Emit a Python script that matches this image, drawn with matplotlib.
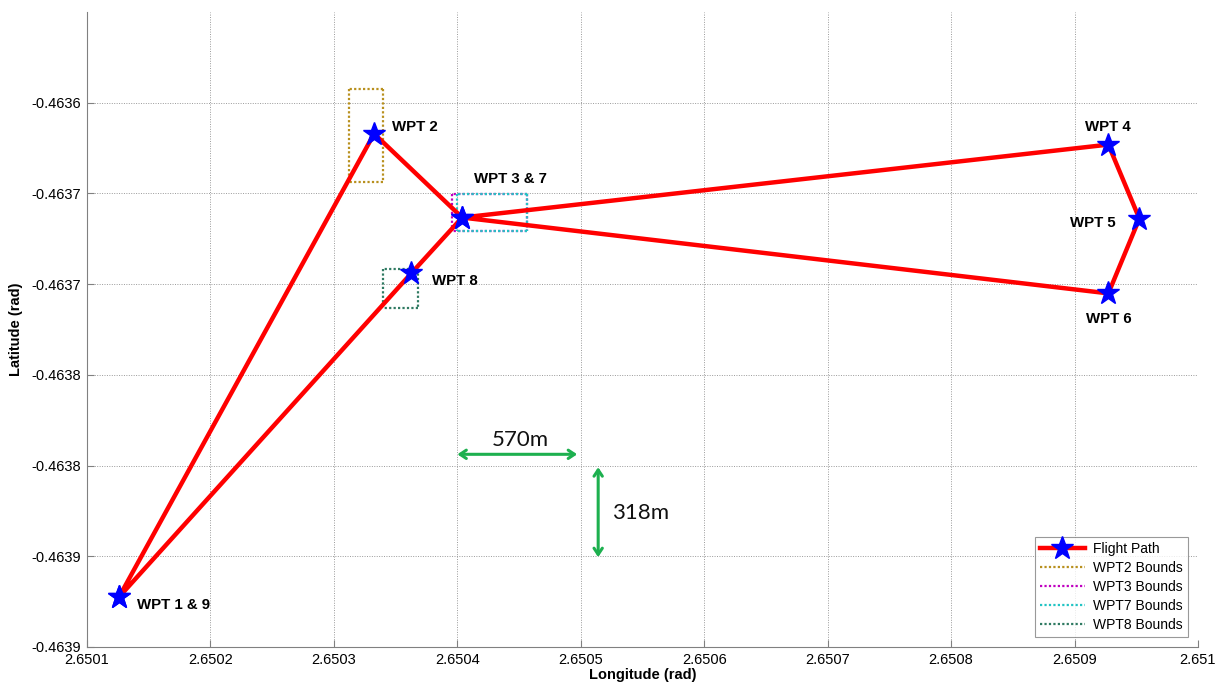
import matplotlib
matplotlib.use("Agg")
import matplotlib.pyplot as plt

# waypoints in flight order: 1 2 3 4 5 6 7(=3) 8 9(=1)
PATH_LON = [2.6501259, 2.6503326, 2.6504039, 2.6509274, 2.6509525, 2.6509274,
            2.6504039, 2.6503626, 2.6501259]
PATH_LAT = [-0.4638725, -0.4636171, -0.4636633, -0.4636231, -0.4636639, -0.4637051,
            -0.4636633, -0.4636941, -0.4638725]

# bounds boxes: (lon_min, lon_max, lat_min, lat_max)
WPT2_BOUNDS = (2.6503123, 2.6503399, -0.4636435, -0.4635923)
WPT3_BOUNDS = (2.6503960, 2.6504566, -0.4636705, -0.4636501)
WPT7_BOUNDS = (2.6503995, 2.6504566, -0.4636705, -0.4636501)
WPT8_BOUNDS = (2.6503399, 2.6503682, -0.4637129, -0.4636919)
BOUNDS_LABELS = ["WPT2 Bounds", "WPT3 Bounds", "WPT7 Bounds", "WPT8 Bounds"]
BOUNDS_COLORS = ["#b8901e", "#c000c0", "#22c4c4", "#2f7a62"]

# waypoint labels: text, lon, lat, horizontal alignment
WPT_LABELS = ["WPT 1 & 9", "WPT 2", "WPT 3 & 7", "WPT 4", "WPT 5", "WPT 6", "WPT 8"]
WPT_LABEL_LON = [2.6501405, 2.6503470, 2.6504430, 2.6509274, 2.6509331, 2.6509274, 2.6503796]
WPT_LABEL_LAT = [-0.4638770, -0.4636135, -0.4636420, -0.4636135, -0.4636665, -0.4637190, -0.4636985]
WPT_LABEL_HA = ["left", "left", "center", "center", "right", "center", "left"]

# distance annotations
DIST_H = (2.6504000, 2.6504971, -0.4637938)   # lon start, lon end, lat
DIST_V = (2.6505141, -0.4638009, -0.4638505)  # lon, lat start, lat end
DIST_H_TEXT = ("570m", 2.6504509, -0.4637861)
DIST_V_TEXT = ("318m", 2.6505481, -0.4638262)

X_TICKS = [2.6501 + 0.0001 * i for i in range(10)]
X_TICK_LABELS = ["2.6501", "2.6502", "2.6503", "2.6504", "2.6505", "2.6506",
                 "2.6507", "2.6508", "2.6509", "2.651"]
Y_TICKS = [-0.46390, -0.46385, -0.46380, -0.46375, -0.46370, -0.46365, -0.46360]
Y_TICK_LABELS = ["-0.4639", "-0.4639", "-0.4638", "-0.4638", "-0.4637", "-0.4637", "-0.4636"]
X_LIM = (2.6501, 2.6510)
Y_LIM = (-0.46390, -0.463550)

nan = float("nan")


def draw_box(ax, bounds, color, label):
    # each edge as its own piece, starting from the top right corner,
    # so overlapping boxes keep the same dot phase
    x0, x1, y0, y1 = bounds
    xs = [x1, x0, nan, x1, x0, nan, x1, x1, nan, x0, x0]
    ys = [y1, y1, nan, y0, y0, nan, y1, y0, nan, y1, y0]
    ax.plot(xs, ys, color=color, linestyle=(0, (1, 1)), linewidth=1.6, label=label)


def main():
    plt.rcParams['font.family'] = ['Liberation Sans', 'DejaVu Sans']
    fig = plt.figure(figsize=(12.15, 6.88), dpi=100)
    ax = fig.add_axes([0.0716, 0.0596, 0.9144, 0.9230])

    ax.plot(PATH_LON, PATH_LAT, color="#ff0000", linewidth=3.2, marker="*",
            markersize=17, markerfacecolor="#0000ff", markeredgecolor="#0000ff",
            label="Flight Path", zorder=3)

    draw_box(ax, WPT2_BOUNDS, BOUNDS_COLORS[0], BOUNDS_LABELS[0])
    draw_box(ax, WPT3_BOUNDS, BOUNDS_COLORS[1], BOUNDS_LABELS[1])
    draw_box(ax, WPT7_BOUNDS, BOUNDS_COLORS[2], BOUNDS_LABELS[2])
    draw_box(ax, WPT8_BOUNDS, BOUNDS_COLORS[3], BOUNDS_LABELS[3])

    for text, lon, lat, ha in zip(WPT_LABELS, WPT_LABEL_LON, WPT_LABEL_LAT, WPT_LABEL_HA):
        ax.text(lon, lat, text, ha=ha, va="center", fontsize=10.8, fontweight="bold")

    green = "#1db04f"
    arrow = dict(arrowstyle="<->,head_length=0.45,head_width=0.3",
                 color=green, lw=2.2, shrinkA=0, shrinkB=0)
    ax.annotate("", xy=(DIST_H[0], DIST_H[2]), xytext=(DIST_H[1], DIST_H[2]), arrowprops=arrow)
    ax.annotate("", xy=(DIST_V[0], DIST_V[1]), xytext=(DIST_V[0], DIST_V[2]), arrowprops=arrow)
    ax.text(DIST_H_TEXT[1], DIST_H_TEXT[2], DIST_H_TEXT[0], ha="center", va="center",
            fontsize=16, family=["Lato", "DejaVu Sans"], color="#111111")
    ax.text(DIST_V_TEXT[1], DIST_V_TEXT[2], DIST_V_TEXT[0], ha="center", va="center",
            fontsize=16, family=["Lato", "DejaVu Sans"], color="#111111")

    ax.set_xlim(X_LIM)
    ax.set_ylim(Y_LIM)
    ax.set_xticks(X_TICKS)
    ax.set_xticklabels(X_TICK_LABELS)
    ax.set_yticks(Y_TICKS)
    ax.set_yticklabels(Y_TICK_LABELS)
    ax.tick_params(direction="in", length=5, color="#808080", labelsize=10.5)
    ax.tick_params(axis="x", pad=4)
    ax.tick_params(axis="y", pad=4)
    ax.grid(True, color="#9a9a9a", linestyle=(0, (1, 1.5)), linewidth=0.7)
    for spine in ax.spines.values():
        spine.set_color("#808080")
    ax.spines["top"].set_visible(False)
    ax.spines["right"].set_visible(False)

    ax.set_xlabel("Longitude (rad)", fontsize=10.5, fontweight="bold", labelpad=1)
    ax.set_ylabel("Latitude (rad)", fontsize=10.5, fontweight="bold", labelpad=6)

    legend = ax.legend(loc="lower right", fontsize=10, frameon=True, fancybox=False,
                       borderaxespad=0.7, handlelength=3.2, labelspacing=0.35,
                       borderpad=0.4, handletextpad=0.6)
    legend.get_frame().set_edgecolor("#808080")
    legend.get_frame().set_linewidth(0.8)

    fig.savefig("out.png", dpi=100)
    plt.close('all')


if __name__ == '__main__':
    main()
